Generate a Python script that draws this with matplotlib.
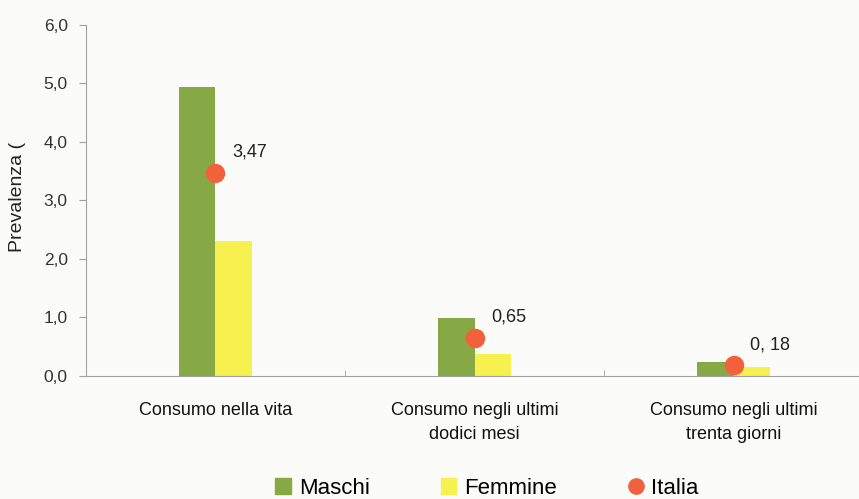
import numpy as np
import matplotlib.pyplot as plt
from matplotlib.lines import Line2D
from matplotlib.patches import Patch

plt.rcParams['font.family'] = ['Liberation Sans', 'DejaVu Sans']

categories = ["Consumo nella vita", "Consumo negli ultimi\ndodici mesi", "Consumo negli ultimi\ntrenta giorni"]
maschi = [4.94, 0.99, 0.24]
femmine = [2.31, 0.38, 0.16]
italia = [3.47, 0.65, 0.18]
italia_labels = ["3,47", "0,65", "0, 18"]
yticks = [0, 1, 2, 3, 4, 5, 6]
ytick_labels = ["0,0", "1,0", "2,0", "3,0", "4,0", "5,0", "6,0"]

green = "#86a845"
yellow = "#f6f14e"
red = "#f2603c"
grey = "#a0a0a0"
bg = "#fbfcf9"

fig = plt.figure(figsize=(8.59, 4.99), dpi=100, facecolor=bg)
ax = fig.add_axes([0.1, 0.2465, 0.905, 0.7035], facecolor=bg)

x = np.arange(len(categories))
w = 0.14
ax.bar(x - w / 2, maschi, w, color=green, linewidth=0)
ax.bar(x + w / 2, femmine, w, color=yellow, linewidth=0)
ax.plot(x, italia, "o", color=red, markersize=14, markeredgewidth=0, zorder=3)
for xi, yi, lab in zip(x, italia, italia_labels):
    ax.annotate(lab, (xi, yi), xytext=(12, 15), textcoords="offset points",
                fontsize=13, color="#222222", va="center")

ax.set_xlim(-0.5, 2.5)
ax.set_ylim(0, 6)
ax.set_yticks(yticks)
ax.set_yticklabels(ytick_labels, fontsize=12.5, color="#333333")
ax.set_xticks(x)
ax.set_xticklabels(categories, fontsize=13, color="#111111", linespacing=1.5)
ax.set_xticks([0.5, 1.5], minor=True)
ax.tick_params(axis="x", which="major", length=0, pad=19)
ax.tick_params(axis="x", which="minor", length=4, color=grey, direction="in")
ax.tick_params(axis="y", length=5, color=grey, pad=8)

for s in ["top", "right"]:
    ax.spines[s].set_visible(False)
for s in ["left", "bottom"]:
    ax.spines[s].set_color(grey)
    ax.spines[s].set_linewidth(0.8)

ax.set_ylabel("Prevalenza (", fontsize=14, color="#222222")
ax.yaxis.set_label_coords(-0.077, 0.51)

handles = [
    Patch(color=green, label="Maschi"),
    Patch(color=yellow, label="Femmine"),
    Line2D([], [], marker="o", color=red, linestyle="none", markersize=11, label="Italia"),
]
fig.legend(handles=handles, loc="center", bbox_to_anchor=(0.567, 0.022), ncol=3,
           frameon=False, fontsize=16, handlelength=0.7, handleheight=0.7,
           handletextpad=0.35, columnspacing=3.2, borderpad=0)

fig.savefig("out.png", dpi=100, facecolor=bg)
